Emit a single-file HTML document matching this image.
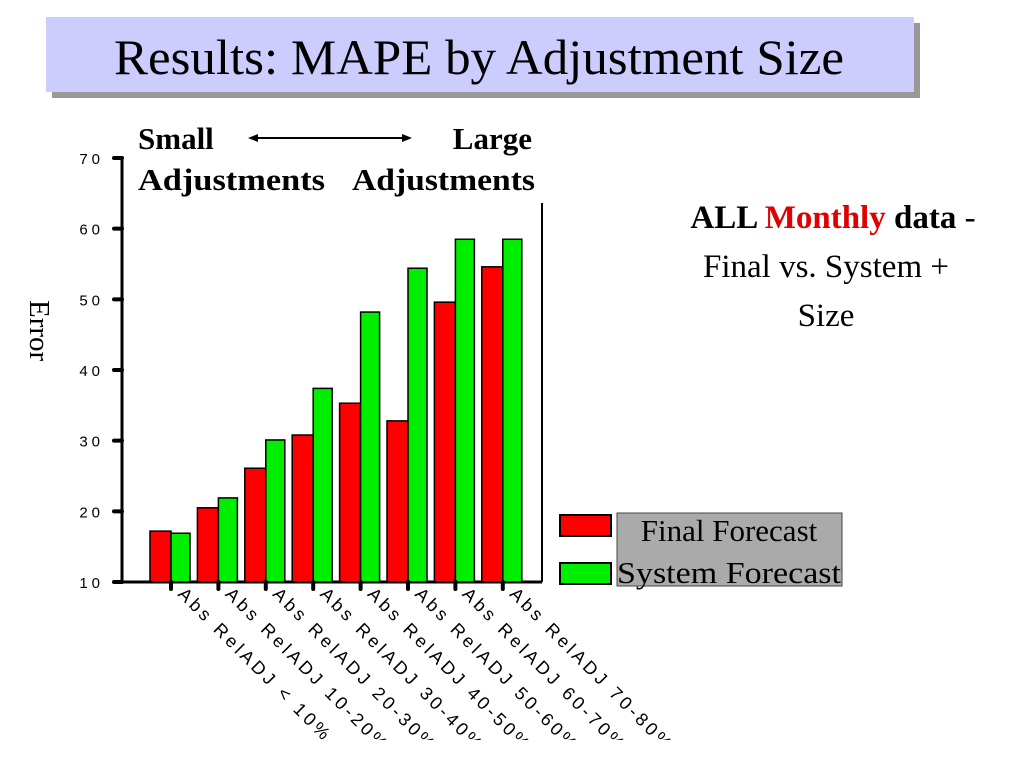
<!DOCTYPE html>
<html><head><meta charset="utf-8"><style>
body{margin:0;background:#fff;}
svg{display:block;}
</style></head><body>
<svg width="1024" height="768" viewBox="0 0 1024 768" xmlns="http://www.w3.org/2000/svg" font-family="Liberation Serif, serif">
<defs><clipPath id="clipLabels"><rect x="0" y="0" width="1024" height="740"/></clipPath></defs>
<g>
<rect x="52" y="23" width="868" height="75" fill="#999999"/>
<rect x="46" y="17" width="868" height="75" fill="#ccccff"/>
<text x="479" y="74" font-size="50" text-anchor="middle" fill="#000" textLength="730" lengthAdjust="spacingAndGlyphs">Results: MAPE by Adjustment Size</text>
</g>
<g font-weight="bold" font-size="31">
<text x="138" y="149">Small</text>
<text x="532" y="149" text-anchor="end">Large</text>
<text x="138" y="190" textLength="187" lengthAdjust="spacingAndGlyphs">Adjustments</text>
<text x="352" y="190" textLength="183" lengthAdjust="spacingAndGlyphs">Adjustments</text>
<line x1="255" y1="138" x2="405" y2="138" stroke="#000" stroke-width="2"/>
<polygon points="248,138 258,134 258,142" fill="#000"/>
<polygon points="412,138 402,134 402,142" fill="#000"/>
</g>
<g font-size="33" text-anchor="middle">
<text x="833" y="228"><tspan font-weight="bold">ALL </tspan><tspan font-weight="bold" fill="#e00000">Monthly</tspan><tspan font-weight="bold"> data</tspan> -</text>
<text x="826" y="277">Final vs. System +</text>
<text x="826" y="326">Size</text>
</g>
<text font-size="29" transform="translate(30,300) rotate(90)">Error</text>
<g id="chart"></g>
<g>
<rect x="617" y="513" width="225" height="73" fill="#aaaaaa" stroke="#444" stroke-width="1"/>
<rect x="560" y="515" width="51" height="21" fill="#ff0000" stroke="#000" stroke-width="2"/>
<rect x="560" y="563" width="51" height="21" fill="#00ee00" stroke="#000" stroke-width="2"/>
<text x="729" y="541" font-size="31" text-anchor="middle">Final Forecast</text>
<text x="729" y="583" font-size="31" text-anchor="middle" textLength="224" lengthAdjust="spacingAndGlyphs">System Forecast</text>
</g>
</svg>
<script>
const categories=["Abs RelADJ < 10%","Abs RelADJ 10-20%","Abs RelADJ 20-30%","Abs RelADJ 30-40%","Abs RelADJ 40-50%","Abs RelADJ 50-60%","Abs RelADJ 60-70%","Abs RelADJ 70-80%"];
const finalValues=[17.2,20.5,26.1,30.8,35.3,32.8,49.6,54.6];
const systemValues=[16.9,21.9,30.1,37.4,48.2,54.4,58.5,58.5];
const yTicks=[10,20,30,40,50,60,70];

const NS="http://www.w3.org/2000/svg";
const g=document.getElementById('chart');
const y0=582,y1=158,vMin=10,vMax=70;
function yScale(v){return y0-(v-vMin)/(vMax-vMin)*(y0-y1);}
const x0=150,step=47.4;
function xScale(i){return x0+i*step;}
function mk(tag,attrs,parent){const e=document.createElementNS(NS,tag);for(const k in attrs)e.setAttribute(k,attrs[k]);(parent||g).appendChild(e);return e;}
let ax=mk('line',{x1:122,y1:158,x2:122,y2:y0,stroke:'#000','stroke-width':3});


let bx=mk('line',{x1:122,y1:y0,x2:542,y2:y0,stroke:'#000','stroke-width':3});


let rx=mk('line',{x1:542,y1:203,x2:542,y2:y0,stroke:'#000','stroke-width':2});


yTicks.forEach(t=>{
 const y=yScale(t);
 const tk=mk('line',{x1:114,y1:y,x2:122,y2:y,stroke:'#000','stroke-width':4,'stroke-linecap':'round'});
 
 
 const tx=mk('text',{x:104,y:y+6,'font-size':15,'text-anchor':'end','font-family':'Liberation Sans, sans-serif','letter-spacing':'4'});
 tx.textContent=t;
 
 
});
const lblG=mk('g',{'clip-path':'url(#clipLabels)'});
categories.forEach((c,i)=>{
 const x=xScale(i);
 const r=mk('rect',{x:x,y:yScale(finalValues[i]),width:21,height:y0-yScale(finalValues[i]),fill:'#ff0000',stroke:'#000','stroke-width':1.5});
 
 
 const s=mk('rect',{x:x+21,y:yScale(systemValues[i]),width:19,height:y0-yScale(systemValues[i]),fill:'#00ee00',stroke:'#000','stroke-width':1.5});
 
 
 const tk=mk('line',{x1:x+21,y1:y0,x2:x+21,y2:y0+7,stroke:'#000','stroke-width':4,'stroke-linecap':'round'});
 
 
 const lb=mk('text',{x:0,y:0,'font-size':18,'font-family':'Liberation Sans, sans-serif','letter-spacing':'3.5',transform:'translate('+(x+27)+','+(y0+13)+') rotate(45)'},lblG);
 lb.textContent=c;
 
 
});
</script>
</body></html>
